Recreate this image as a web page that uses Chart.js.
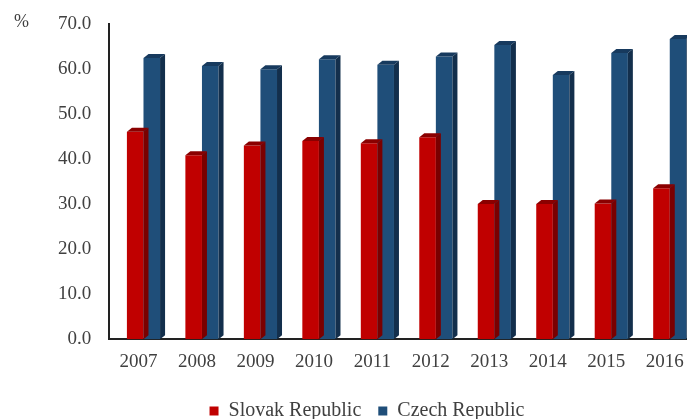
<!DOCTYPE html>
<html>
<head>
<meta charset="utf-8">
<script src="https://cdn.jsdelivr.net/npm/chart.js@4/dist/chart.umd.min.js"></script>
<style>
html,body{margin:0;padding:0;background:#fff;overflow:hidden;}
#wrap{width:700px;height:419px;position:relative;}
</style>
</head>
<body>
<div id="wrap"><canvas id="c" width="700" height="419"></canvas></div>
<script>
const years = ['2007','2008','2009','2010','2011','2012','2013','2014','2015','2016'];
const slovak = [46.0, 40.8, 43.0, 44.0, 43.5, 44.8, 30.0, 30.0, 30.1, 33.5];
const czech  = [62.4, 60.6, 59.9, 62.1, 60.9, 62.7, 65.3, 58.6, 63.5, 66.6];
const seriesNames = ['Slovak Republic', 'Czech Republic'];
const yTicks = [0, 10, 20, 30, 40, 50, 60, 70];

const FONT = "'Liberation Serif', 'Times New Roman', serif";
const SHIFT = 5, DX = 5, DY = 4;
const faces = [
  {top:'#8a0000', side:'#7a0000'},
  {top:'#173a5e', side:'#132f4c'}
];

const threeD = {
  id: 'threeD',
  beforeDatasetsDraw(chart){ chart.ctx.save(); chart.ctx.translate(SHIFT,0); },
  afterDatasetsDraw(chart){ chart.ctx.restore(); },
  afterDatasetDraw(chart, args){
    const ctx = chart.ctx;
    const f = faces[args.index];
    args.meta.data.forEach(bar => {
      const p = bar.getProps(['x','y','base','width'], true);
      const l = p.x - p.width/2, r = p.x + p.width/2, t = p.y, b = p.base;
      ctx.fillStyle = f.top;
      ctx.beginPath();
      ctx.moveTo(l, t); ctx.lineTo(l+DX, t-DY); ctx.lineTo(r+DX, t-DY); ctx.lineTo(r, t);
      ctx.closePath(); ctx.fill();
      ctx.fillStyle = f.side;
      ctx.beginPath();
      ctx.moveTo(r, t); ctx.lineTo(r+DX, t-DY); ctx.lineTo(r+DX, b-DY); ctx.lineTo(r, b);
      ctx.closePath(); ctx.fill();
    });
  }
};

const unitLabel = {
  id: 'unitLabel',
  afterDraw(chart){
    const ctx = chart.ctx;
    ctx.save();
    ctx.font = "18px " + FONT;
    ctx.fillStyle = '#404040';
    ctx.textAlign = 'left';
    ctx.textBaseline = 'middle';
    ctx.fillText('%', 14, 22);
    ctx.restore();
  }
};

new Chart(document.getElementById('c'), {
  type: 'bar',
  data: {
    labels: years,
    datasets: [
      {label: seriesNames[0], data: slovak, backgroundColor: '#c00000', borderWidth: 0},
      {label: seriesNames[1], data: czech, backgroundColor: '#1f4e79', borderWidth: 0}
    ]
  },
  options: {
    responsive: false,
    animation: false,
    events: [],
    categoryPercentage: 0.567,
    barPercentage: 1.0,
    layout: {padding: {left: 40, right: 6, top: 0, bottom: -12}},
    scales: {
      x: {
        grid: {display: false, drawTicks: false},
        border: {display: true, color: '#222', width: 2},
        ticks: {color: '#404040', font: {family: FONT, size: 19}, padding: 11, maxRotation: 0}
      },
      y: {
        min: 0, max: 70,
        afterBuildTicks(axis){ axis.ticks = yTicks.map(v => ({value: v})); },
        grid: {display: false, drawTicks: false},
        border: {display: true, color: '#222', width: 2},
        ticks: {color: '#404040', font: {family: FONT, size: 19, lineHeight: 0.6}, padding: 18,
                callback: v => Number(v).toFixed(1)}
      }
    },
    plugins: {
      legend: {
        position: 'bottom',
        labels: {color: '#404040', font: {family: FONT, size: 20}, boxWidth: 9, boxHeight: 9, padding: 17}
      },
      tooltip: {enabled: false}
    }
  },
  plugins: [threeD, unitLabel]
});
</script>
</body>
</html>
